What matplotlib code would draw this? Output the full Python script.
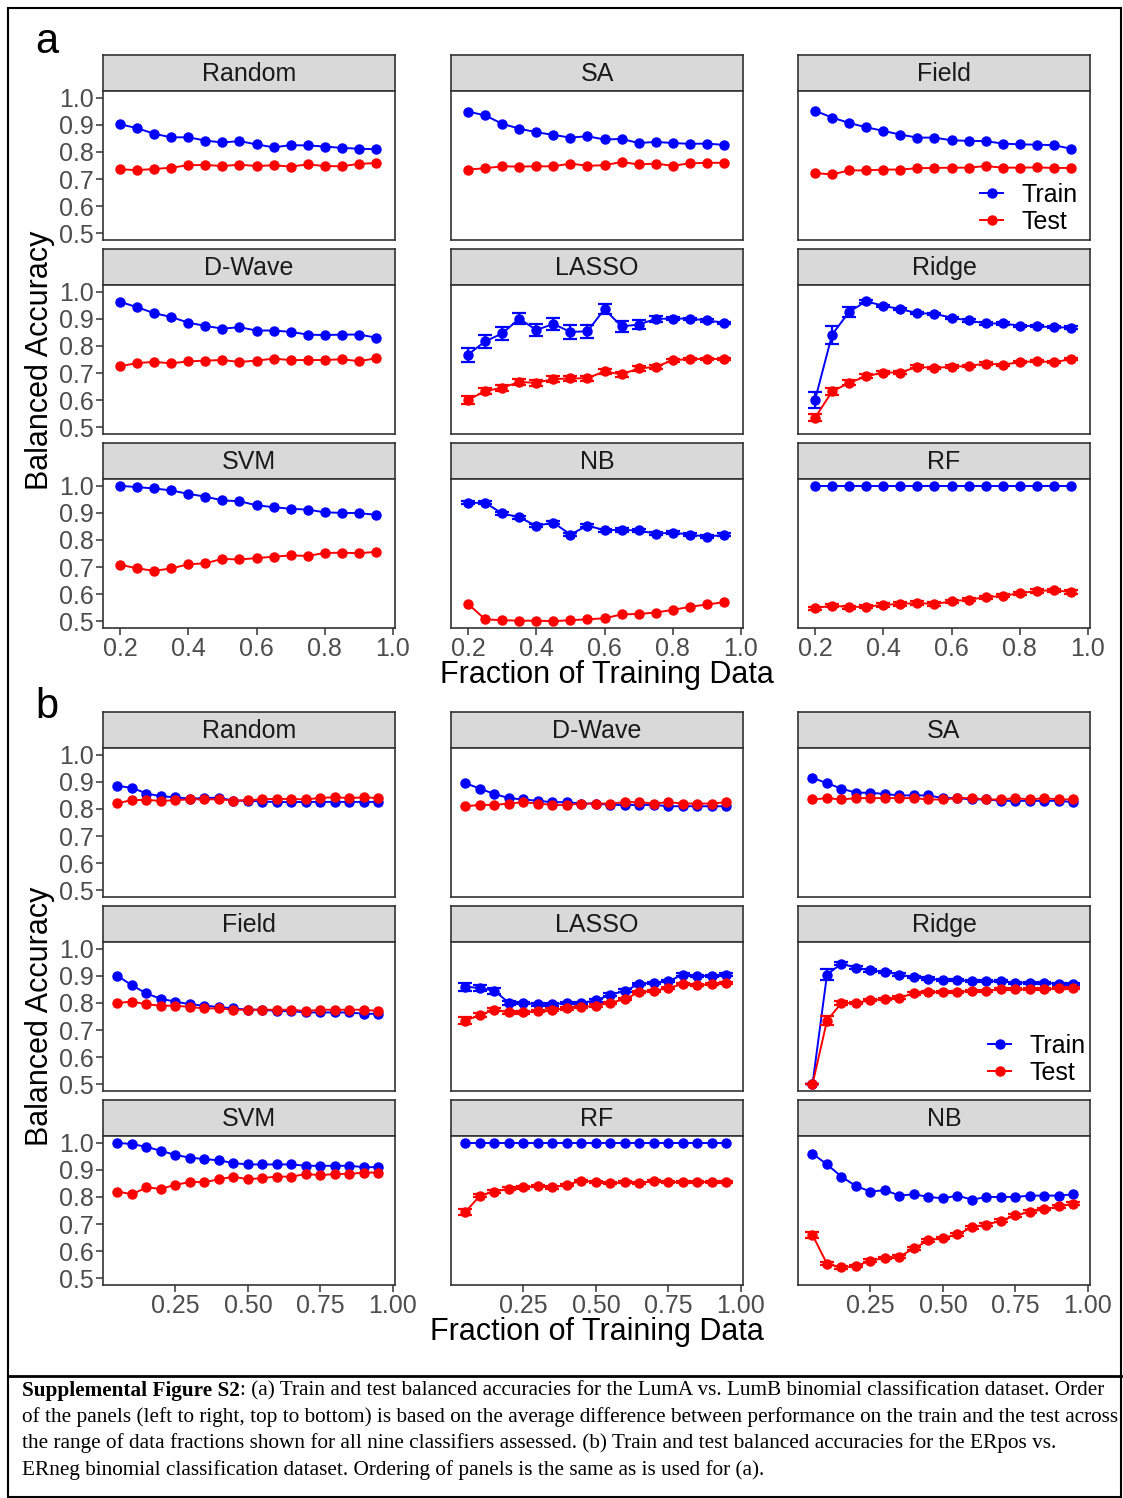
import numpy as np
import matplotlib
matplotlib.use('Agg')
import matplotlib.pyplot as plt
from matplotlib.patches import Rectangle
from matplotlib.lines import Line2D

plt.rcParams['font.family'] = ['Liberation Sans', 'DejaVu Sans']

W, H = 1123, 1498

######################################################
# Datos: fraccion de datos de entrenamiento
frac_a = [0.20, 0.25, 0.30, 0.35, 0.40, 0.45, 0.50, 0.55, 0.60, 0.65, 0.70, 0.75, 0.80, 0.85, 0.90, 0.95]
frac_b = [0.05, 0.10, 0.15, 0.20, 0.25, 0.30, 0.35, 0.40, 0.45, 0.50, 0.55, 0.60, 0.65, 0.70, 0.75, 0.80,
          0.85, 0.90, 0.95]

# (a) LumA vs LumB
a_random_train = [0.902, 0.888, 0.867, 0.854, 0.854, 0.842, 0.835, 0.840, 0.828, 0.817, 0.825, 0.824, 0.820, 0.815, 0.812, 0.810]
a_random_test = [0.736, 0.733, 0.737, 0.742, 0.751, 0.752, 0.748, 0.753, 0.748, 0.751, 0.746, 0.754, 0.748, 0.747, 0.756, 0.759]
a_sa_train = [0.949, 0.935, 0.904, 0.886, 0.873, 0.863, 0.853, 0.858, 0.846, 0.848, 0.833, 0.837, 0.833, 0.830, 0.831, 0.826]
a_sa_test = [0.735, 0.740, 0.747, 0.746, 0.747, 0.747, 0.757, 0.749, 0.751, 0.763, 0.754, 0.757, 0.749, 0.758, 0.760, 0.760]
a_field_train = [0.952, 0.927, 0.907, 0.891, 0.878, 0.864, 0.853, 0.853, 0.843, 0.841, 0.840, 0.831, 0.828, 0.827, 0.825, 0.812]
a_field_test = [0.722, 0.717, 0.732, 0.732, 0.735, 0.735, 0.740, 0.741, 0.742, 0.742, 0.748, 0.742, 0.742, 0.743, 0.741, 0.741]
a_dwave_train = [0.963, 0.943, 0.921, 0.907, 0.886, 0.874, 0.864, 0.869, 0.857, 0.857, 0.852, 0.842, 0.840, 0.842, 0.842, 0.831]
a_dwave_test = [0.725, 0.737, 0.741, 0.736, 0.743, 0.746, 0.748, 0.741, 0.746, 0.753, 0.748, 0.748, 0.748, 0.751, 0.744, 0.754]
a_lasso_train = [0.768, 0.817, 0.846, 0.901, 0.859, 0.881, 0.852, 0.854, 0.936, 0.872, 0.879, 0.900, 0.901, 0.901, 0.894, 0.886]
a_lasso_train_err = [0.026, 0.025, 0.024, 0.021, 0.022, 0.023, 0.025, 0.023, 0.018, 0.021, 0.015, 0.012, 0.005, 0.004, 0.004, 0.004]
a_lasso_test = [0.601, 0.633, 0.646, 0.667, 0.664, 0.678, 0.680, 0.681, 0.706, 0.695, 0.717, 0.723, 0.747, 0.752, 0.752, 0.752]
a_lasso_test_err = [0.015, 0.011, 0.011, 0.010, 0.010, 0.010, 0.010, 0.009, 0.008, 0.008, 0.008, 0.007, 0.005, 0.004, 0.004, 0.004]
a_ridge_train = [0.601, 0.842, 0.926, 0.965, 0.948, 0.936, 0.921, 0.919, 0.904, 0.894, 0.883, 0.883, 0.875, 0.873, 0.869, 0.868]
a_ridge_train_err = [0.030, 0.033, 0.019, 0.006, 0.005, 0.004, 0.004, 0.004, 0.004, 0.004, 0.004, 0.004, 0.004, 0.004, 0.004, 0.004]
a_ridge_test = [0.535, 0.632, 0.664, 0.688, 0.702, 0.702, 0.723, 0.719, 0.723, 0.726, 0.735, 0.731, 0.740, 0.744, 0.740, 0.751]
a_ridge_test_err = [0.012, 0.012, 0.009, 0.007, 0.006, 0.005, 0.005, 0.005, 0.005, 0.004, 0.004, 0.004, 0.004, 0.004, 0.004, 0.004]
a_svm_train = [1.000, 0.995, 0.990, 0.983, 0.970, 0.960, 0.946, 0.943, 0.928, 0.921, 0.915, 0.912, 0.902, 0.900, 0.899, 0.893]
a_svm_test = [0.709, 0.695, 0.686, 0.695, 0.710, 0.714, 0.730, 0.728, 0.733, 0.738, 0.743, 0.741, 0.752, 0.753, 0.751, 0.756]
a_nb_train = [0.937, 0.937, 0.898, 0.884, 0.852, 0.864, 0.820, 0.853, 0.836, 0.837, 0.835, 0.823, 0.827, 0.820, 0.812, 0.819]
a_nb_train_err = [0.006, 0.006, 0.006, 0.006, 0.006, 0.006, 0.006, 0.006, 0.006, 0.006, 0.006, 0.006, 0.006, 0.006, 0.006, 0.006]
a_nb_test = [0.564, 0.507, 0.504, 0.502, 0.502, 0.500, 0.504, 0.507, 0.511, 0.525, 0.527, 0.532, 0.542, 0.553, 0.562, 0.570]
a_rf_train = [1.000, 1.000, 1.000, 1.000, 1.000, 1.000, 1.000, 1.000, 1.000, 1.000, 1.000, 1.000, 1.000, 1.000, 1.000, 1.000]
a_rf_test = [0.548, 0.558, 0.552, 0.554, 0.560, 0.564, 0.567, 0.564, 0.573, 0.580, 0.588, 0.594, 0.603, 0.612, 0.614, 0.608]
a_rf_test_err = [0.006, 0.006, 0.006, 0.006, 0.006, 0.006, 0.006, 0.006, 0.006, 0.006, 0.006, 0.006, 0.006, 0.006, 0.006, 0.006]

# (b) ERpos vs ERneg
b_random_train = [0.885, 0.878, 0.857, 0.847, 0.843, 0.838, 0.840, 0.842, 0.830, 0.831, 0.827, 0.826, 0.825, 0.826, 0.826, 0.826, 0.826, 0.826, 0.826]
b_random_test = [0.821, 0.833, 0.833, 0.830, 0.832, 0.836, 0.835, 0.836, 0.831, 0.832, 0.836, 0.837, 0.837, 0.835, 0.841, 0.843, 0.840, 0.843, 0.840]
b_dwave_train = [0.895, 0.875, 0.855, 0.840, 0.835, 0.830, 0.825, 0.825, 0.820, 0.820, 0.815, 0.815, 0.815, 0.815, 0.810, 0.810, 0.810, 0.810, 0.810]
b_dwave_test = [0.810, 0.815, 0.815, 0.820, 0.825, 0.820, 0.815, 0.815, 0.820, 0.820, 0.820, 0.825, 0.825, 0.820, 0.825, 0.820, 0.820, 0.820, 0.825]
b_sa_train = [0.915, 0.895, 0.875, 0.860, 0.860, 0.855, 0.850, 0.850, 0.850, 0.840, 0.840, 0.835, 0.835, 0.830, 0.830, 0.830, 0.830, 0.830, 0.825]
b_sa_test = [0.835, 0.840, 0.835, 0.840, 0.840, 0.840, 0.840, 0.840, 0.835, 0.835, 0.840, 0.840, 0.835, 0.835, 0.840, 0.835, 0.840, 0.835, 0.835]
b_field_train = [0.900, 0.865, 0.835, 0.815, 0.805, 0.795, 0.790, 0.785, 0.780, 0.775, 0.775, 0.770, 0.770, 0.765, 0.765, 0.765, 0.765, 0.760, 0.760]
b_field_test = [0.800, 0.805, 0.795, 0.790, 0.790, 0.785, 0.780, 0.780, 0.775, 0.775, 0.775, 0.775, 0.775, 0.770, 0.775, 0.775, 0.775, 0.775, 0.770]
b_lasso_train = [0.860, 0.855, 0.845, 0.800, 0.800, 0.795, 0.795, 0.800, 0.800, 0.810, 0.830, 0.845, 0.870, 0.875, 0.880, 0.905, 0.900, 0.900, 0.905]
b_lasso_train_err = [0.015, 0.012, 0.012, 0.006, 0.005, 0.005, 0.005, 0.005, 0.005, 0.005, 0.005, 0.005, 0.005, 0.004, 0.004, 0.004, 0.004, 0.004, 0.004]
b_lasso_test = [0.735, 0.755, 0.775, 0.765, 0.765, 0.770, 0.775, 0.780, 0.785, 0.790, 0.800, 0.815, 0.840, 0.845, 0.855, 0.870, 0.865, 0.870, 0.875]
b_lasso_test_err = [0.012, 0.008, 0.006, 0.005, 0.005, 0.005, 0.005, 0.005, 0.005, 0.005, 0.005, 0.005, 0.005, 0.004, 0.004, 0.004, 0.004, 0.004, 0.004]
b_ridge_train = [0.500, 0.905, 0.945, 0.930, 0.920, 0.915, 0.905, 0.895, 0.890, 0.885, 0.885, 0.880, 0.880, 0.880, 0.875, 0.875, 0.875, 0.870, 0.870]
b_ridge_train_err = [0.000, 0.022, 0.006, 0.005, 0.004, 0.004, 0.004, 0.004, 0.004, 0.004, 0.004, 0.004, 0.004, 0.004, 0.004, 0.004, 0.004, 0.004, 0.004]
b_ridge_test = [0.500, 0.735, 0.800, 0.800, 0.810, 0.815, 0.820, 0.835, 0.840, 0.840, 0.840, 0.845, 0.845, 0.850, 0.850, 0.850, 0.850, 0.855, 0.855]
b_ridge_test_err = [0.000, 0.018, 0.006, 0.005, 0.004, 0.004, 0.004, 0.004, 0.004, 0.004, 0.004, 0.004, 0.004, 0.004, 0.004, 0.004, 0.004, 0.004, 0.004]
b_svm_train = [1.000, 0.995, 0.985, 0.970, 0.955, 0.945, 0.940, 0.935, 0.925, 0.920, 0.920, 0.920, 0.920, 0.915, 0.915, 0.915, 0.915, 0.910, 0.910]
b_svm_test = [0.820, 0.810, 0.835, 0.830, 0.845, 0.855, 0.855, 0.865, 0.875, 0.865, 0.870, 0.875, 0.875, 0.885, 0.880, 0.885, 0.885, 0.890, 0.890]
b_rf_train = [1.000, 1.000, 1.000, 1.000, 1.000, 1.000, 1.000, 1.000, 1.000, 1.000, 1.000, 1.000, 1.000, 1.000, 1.000, 1.000, 1.000, 1.000, 1.000]
b_rf_test = [0.745, 0.805, 0.820, 0.830, 0.835, 0.840, 0.835, 0.845, 0.860, 0.855, 0.850, 0.855, 0.850, 0.860, 0.855, 0.855, 0.855, 0.855, 0.855]
b_rf_test_err = [0.012, 0.006, 0.005, 0.005, 0.004, 0.004, 0.004, 0.004, 0.004, 0.004, 0.004, 0.004, 0.004, 0.004, 0.004, 0.004, 0.004, 0.004, 0.004]
b_nb_train = [0.960, 0.920, 0.875, 0.840, 0.820, 0.825, 0.805, 0.810, 0.800, 0.795, 0.805, 0.790, 0.800, 0.800, 0.800, 0.805, 0.805, 0.805, 0.810]
b_nb_test = [0.660, 0.553, 0.540, 0.545, 0.565, 0.575, 0.580, 0.610, 0.640, 0.648, 0.662, 0.688, 0.698, 0.712, 0.732, 0.745, 0.755, 0.765, 0.775]
b_nb_test_err = [0.012, 0.006, 0.005, 0.005, 0.005, 0.005, 0.005, 0.005, 0.005, 0.005, 0.005, 0.005, 0.005, 0.005, 0.005, 0.005, 0.005, 0.005, 0.005]

# orden de los paneles (izq -> der, arriba -> abajo)
panels_a = [("Random", a_random_train, None, a_random_test, None),
            ("SA", a_sa_train, None, a_sa_test, None),
            ("Field", a_field_train, None, a_field_test, None),
            ("D-Wave", a_dwave_train, None, a_dwave_test, None),
            ("LASSO", a_lasso_train, a_lasso_train_err, a_lasso_test, a_lasso_test_err),
            ("Ridge", a_ridge_train, a_ridge_train_err, a_ridge_test, a_ridge_test_err),
            ("SVM", a_svm_train, None, a_svm_test, None),
            ("NB", a_nb_train, a_nb_train_err, a_nb_test, None),
            ("RF", a_rf_train, None, a_rf_test, a_rf_test_err)]
panels_b = [("Random", b_random_train, None, b_random_test, None),
            ("D-Wave", b_dwave_train, None, b_dwave_test, None),
            ("SA", b_sa_train, None, b_sa_test, None),
            ("Field", b_field_train, None, b_field_test, None),
            ("LASSO", b_lasso_train, b_lasso_train_err, b_lasso_test, b_lasso_test_err),
            ("Ridge", b_ridge_train, b_ridge_train_err, b_ridge_test, b_ridge_test_err),
            ("SVM", b_svm_train, None, b_svm_test, None),
            ("RF", b_rf_train, None, b_rf_test, b_rf_test_err),
            ("NB", b_nb_train, None, b_nb_test, b_nb_test_err)]

yticks = [0.5, 0.6, 0.7, 0.8, 0.9, 1.0]
ytick_labels = ["0.5", "0.6", "0.7", "0.8", "0.9", "1.0"]
xticks_a = [0.2, 0.4, 0.6, 0.8, 1.0]
xtick_labels_a = ["0.2", "0.4", "0.6", "0.8", "1.0"]
xticks_b = [0.25, 0.50, 0.75, 1.00]
xtick_labels_b = ["0.25", "0.50", "0.75", "1.00"]

######################################################
fig = plt.figure(figsize=(W / 100, H / 100), dpi=100)

def box(x0, y0, x1, y1):
    # pixeles (origen arriba a la izquierda) -> fraccion de figura
    return [x0 / W, 1 - y1 / H, (x1 - x0) / W, (y1 - y0) / H]

col_x = [103, 451, 798]
pw = 292
dark = '#333333'

def draw_series(ax, frac, vals, err, color):
    ax.plot(frac, vals, '-', color=color, lw=1.4, zorder=3)
    if err is not None:
        ax.errorbar(frac, vals, yerr=err, fmt='none', ecolor=color, elinewidth=1.6,
                    capsize=5, capthick=1.6, zorder=3)
    ax.plot(frac, vals, 'o', color=color, ms=6.5, zorder=4)

def draw_block(panels, strip_tops, frac, xlim, xticks, xlabels, legend_idx, legend_dx):
    for i, (name, tr, tr_err, te, te_err) in enumerate(panels):
        r, c = i // 3, i % 3
        top = strip_tops[r]
        x0 = col_x[c]
        st = fig.add_axes(box(x0, top, x0 + pw, top + 36))
        st.set_facecolor('#D9D9D9')
        st.set_xticks([])
        st.set_yticks([])
        for s in st.spines.values():
            s.set_color(dark)
            s.set_linewidth(1.2)
        st.text(0.5, 0.46, name, ha='center', va='center', fontsize=18, color='#1A1A1A',
                transform=st.transAxes)

        ax = fig.add_axes(box(x0, top + 36, x0 + pw, top + 185))
        draw_series(ax, frac, tr, tr_err, 'blue')
        draw_series(ax, frac, te, te_err, 'red')
        ax.set_xlim(xlim)
        ax.set_ylim(0.475, 1.025)
        for s in ax.spines.values():
            s.set_color(dark)
            s.set_linewidth(1.2)
        ax.tick_params(direction='out', length=5, width=1.1, color=dark,
                       labelsize=18, labelcolor='#4D4D4D', pad=1.5)
        ax.set_yticks(yticks)
        ax.set_xticks(xticks)
        if c == 0:
            ax.set_yticklabels(ytick_labels)
        else:
            ax.tick_params(axis='y', length=0, labelleft=False)
        if r == 2:
            ax.set_xticklabels(xlabels)
        else:
            ax.tick_params(axis='x', length=0, labelbottom=False)

        if i == legend_idx:
            handles = [Line2D([], [], color='blue', marker='o', ms=6.5, lw=1.4),
                       Line2D([], [], color='red', marker='o', ms=6.5, lw=1.4)]
            ax.legend(handles, ["Train", "Test"], loc='lower right', frameon=False,
                      fontsize=18, handlelength=0.9, handletextpad=0.75,
                      labelspacing=0.12, borderaxespad=-0.05, borderpad=0.3,
                      bbox_to_anchor=(1 + legend_dx / pw, 0))

# (a)
draw_block(panels_a, [55, 249, 443], frac_a, (0.15, 1.006), xticks_a, xtick_labels_a, 2, -6)
fig.text(47 / W, 1 - 42 / H, "a", fontsize=30, ha='center', va='center')
fig.text(607 / W, 1 - 675 / H, "Fraction of Training Data", fontsize=22, ha='center', va='center')
fig.text(40 / W, 1 - 360 / H, "Balanced Accuracy", fontsize=22, ha='center', va='center', rotation=90)

# (b)
draw_block(panels_b, [712, 906, 1100], frac_b, (0.0, 1.007), xticks_b, xtick_labels_b, 5, 2)
fig.text(47 / W, 1 - 707 / H, "b", fontsize=30, ha='center', va='center')
fig.text(597 / W, 1 - 1332 / H, "Fraction of Training Data", fontsize=22, ha='center', va='center')
fig.text(40 / W, 1 - 1016 / H, "Balanced Accuracy", fontsize=22, ha='center', va='center', rotation=90)

# marco y linea del pie de figura
fig.patches.append(Rectangle((8 / W, 1 / H), 1113 / W, 1 - 9 / H, transform=fig.transFigure,
                             fill=False, edgecolor='black', lw=1.5))
fig.lines.append(Line2D([8 / W, 1121 / W], [1 - 1376 / H, 1 - 1376 / H], transform=fig.transFigure,
                        color='black', lw=2))

# pie de figura
cap_font = 15.3
serif = ['Liberation Serif', 'DejaVu Serif']
cap_lines = [": (a) Train and test balanced accuracies for the LumA vs. LumB binomial classification dataset. Order",
             "of the panels (left to right, top to bottom) is based on the average difference between performance on the train and the test across",
             "the range of data fractions shown for all nine classifiers assessed. (b) Train and test balanced accuracies for the ERpos vs.",
             "ERneg binomial classification dataset. Ordering of panels is the same as is used for (a)."]
cap_y = [1391, 1417, 1443, 1470]
bold = fig.text(22 / W, 1 - cap_y[0] / H, "Supplemental Figure S2", fontsize=cap_font, fontweight='bold',
                family=serif, ha='left', va='center')
renderer = fig.canvas.get_renderer()
bw = bold.get_window_extent(renderer).width
fig.text((22 + bw) / W, 1 - cap_y[0] / H, cap_lines[0], fontsize=cap_font, family=serif,
         ha='left', va='center')
for line, y in zip(cap_lines[1:], cap_y[1:]):
    fig.text(22 / W, 1 - y / H, line, fontsize=cap_font, family=serif, ha='left', va='center')

plt.savefig('out.png', dpi=100)
